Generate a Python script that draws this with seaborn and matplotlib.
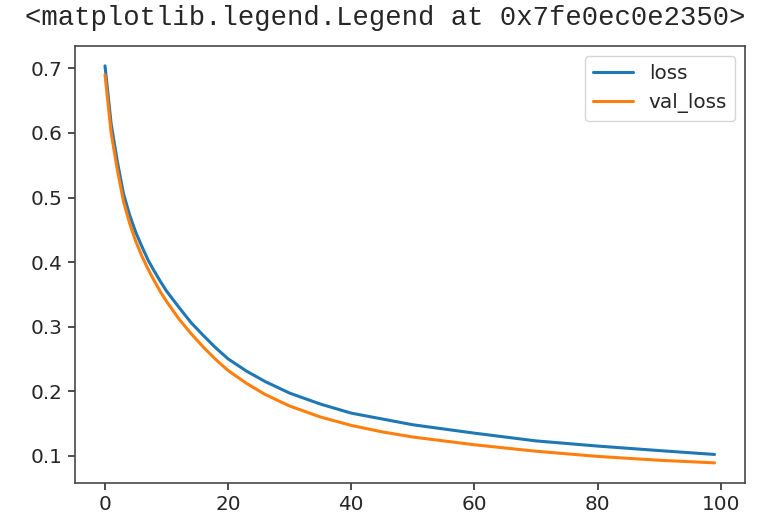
import numpy as np
import pandas as pd
import matplotlib
matplotlib.use("Agg")
import matplotlib.pyplot as plt
import seaborn as sns

# epochs (denser where the curve bends)
epochs = [0, 1, 2, 3, 4, 5, 6, 7, 8, 9, 10, 12, 14, 16, 18, 20, 23, 26, 30,
          35, 40, 45, 50, 60, 70, 80, 90, 99]
loss = [0.704, 0.614, 0.556, 0.506, 0.473, 0.446, 0.424, 0.403, 0.386, 0.370,
        0.355, 0.330, 0.306, 0.286, 0.267, 0.250, 0.231, 0.215, 0.197,
        0.180, 0.166, 0.157, 0.148, 0.135, 0.123, 0.115, 0.108, 0.102]
val_loss = [0.690, 0.600, 0.543, 0.494, 0.460, 0.432, 0.409, 0.389, 0.371, 0.354,
            0.339, 0.312, 0.289, 0.268, 0.249, 0.232, 0.212, 0.195, 0.177,
            0.160, 0.147, 0.137, 0.129, 0.117, 0.107, 0.099, 0.093, 0.089]

df = pd.DataFrame({"epoch": epochs, "loss": loss, "val_loss": val_loss})

sns.set_style("ticks")
plt.rcParams["font.family"] = ["DejaVu Sans"]

fig = plt.figure(figsize=(7.62, 5.28), dpi=100)
ax = fig.add_axes([0.0978, 0.0858, 0.8799, 0.8271])

sns.lineplot(data=df, x="epoch", y="loss", ax=ax, label="loss",
             color="#1f77b4", linewidth=2.2)
sns.lineplot(data=df, x="epoch", y="val_loss", ax=ax, label="val_loss",
             color="#ff7f0e", linewidth=2.2)

ax.set_xlabel("")
ax.set_ylabel("")
ax.set_xticks([0, 20, 40, 60, 80, 100])
ax.set_yticks([0.1, 0.2, 0.3, 0.4, 0.5, 0.6, 0.7])
ax.tick_params(labelsize=14.4, length=5, width=1.15, colors=".15")
for s in ax.spines.values():
    s.set_linewidth(1.15)
    s.set_color(".25")
ax.legend(fontsize=14.4, loc="upper right", handlelength=2.0)

# notebook output line above the plot
fig.text(0.033, 0.9527, "<matplotlib.legend.Legend at 0x7fe0ec0e2350>",
         family="Liberation Mono", fontsize=19.6, va="baseline", ha="left")

fig.savefig("out.png", dpi=100)
